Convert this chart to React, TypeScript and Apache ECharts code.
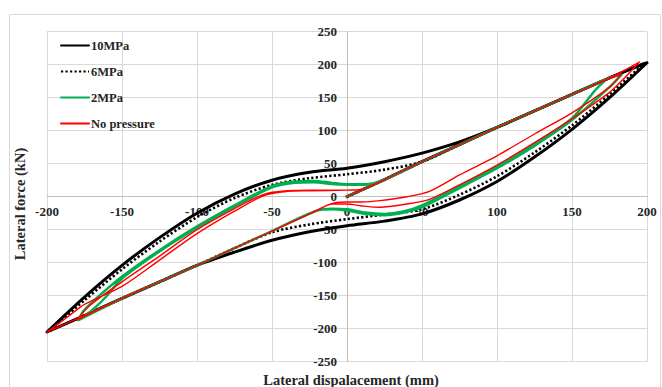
import { useEffect, useRef } from "react";
import * as echarts from "echarts";

type Pt = [number, number];

// Axis ranges (mm / kN)
const X_MIN = -200;
const X_MAX = 200;
const X_STEP = 50;
const Y_MIN = -250;
const Y_MAX = 250;
const Y_STEP = 50;

const seriesNames = ["10MPa", "6MPa", "2MPa", "No pressure"];

// ---- 10 MPa ----
const mpa10Virgin: Pt[] = [[0, 0], [25, 26], [50, 53], [75, 79], [100, 105], [125, 130], [150, 155], [175, 180], [200, 203]];
const mpa10Unload: Pt[] = [[175, 150], [150, 102], [125, 60], [100, 23], [75, -5], [50, -26], [25, -37], [0, -44], [-25, -53], [-50, -66], [-75, -84], [-100, -104], [-125, -129], [-150, -154], [-175, -180], [-200, -205]];
const mpa10Reload: Pt[] = [[-175, -152], [-150, -104], [-125, -62], [-100, -25], [-75, 4], [-50, 25], [-25, 37], [0, 43], [25, 53], [50, 66], [75, 83], [100, 105], [125, 130], [150, 155], [175, 180], [200, 203]];

// ---- 6 MPa ----
const mpa6Virgin: Pt[] = [[0, 0], [25, 26], [50, 53], [75, 79], [100, 105], [125, 130], [150, 155], [175, 180], [198, 202]];
const mpa6Unload: Pt[] = [[175, 155], [150, 108], [125, 67], [100, 31], [75, 3], [50, -19], [25, -27], [0, -34], [-25, -42], [-50, -54], [-75, -78], [-100, -104], [-125, -129], [-150, -154], [-175, -180], [-198, -203]];
const mpa6Reload: Pt[] = [[-175, -157], [-150, -110], [-125, -68], [-100, -31], [-75, -2], [-50, 18], [-25, 28], [0, 34], [25, 41], [50, 53], [75, 79], [100, 105], [125, 130], [150, 155], [175, 180], [198, 202]];

// ---- 2 MPa (two cycles) ----
const mpa2Virgin: Pt[] = [[0, 0], [25, 26], [50, 53], [75, 79], [100, 105], [125, 130], [150, 155], [175, 180], [183, 185]];
const mpa2UnloadA: Pt[] = [[175, 166], [150, 116], [125, 77], [100, 43], [75, 13], [50, -16], [38, -24], [25, -28], [12, -26], [0, -21], [-10, -19], [-20, -21], [-50, -52], [-75, -78], [-100, -104], [-125, -129], [-150, -154], [-179, -187]];
const mpa2ReloadA: Pt[] = [[-176, -174], [-170, -160], [-150, -121], [-125, -81], [-100, -45], [-75, -13], [-50, 16], [-35, 23], [-22, 24], [-10, 21], [0, 19], [12, 19], [25, 26], [50, 53], [75, 79], [100, 105], [125, 130], [150, 155], [173, 178]];
const mpa2UnloadB: Pt[] = [[165, 160], [150, 119], [125, 80], [100, 46], [75, 16], [50, -13], [38, -22], [25, -26], [12, -24], [0, -19], [-10, -18], [-20, -21], [-50, -52], [-75, -78], [-100, -104], [-125, -129], [-150, -154], [-175, -181]];
const mpa2ReloadB: Pt[] = [[-168, -168], [-160, -150], [-150, -124], [-125, -83], [-100, -47], [-75, -15], [-50, 14], [-35, 21], [-22, 22], [-10, 19], [0, 18], [12, 18], [20, 21], [25, 26], [50, 53], [75, 79], [100, 105]];

// ---- No pressure (two cycles) ----
const npVirgin: Pt[] = [[0, 0], [25, 26], [50, 53], [75, 79], [100, 105], [125, 130], [150, 155], [175, 180], [195, 204]];
const npUnloadA: Pt[] = [[185, 180], [175, 158], [150, 118], [125, 82], [100, 48], [75, 18], [55, -4], [40, -11], [22, -16], [10, -14], [0, -11], [-10, -11], [-20, -21], [-50, -52], [-75, -78], [-100, -104], [-125, -129], [-150, -154], [-175, -180], [-200, -205]];
const npReloadA: Pt[] = [[-185, -180], [-175, -163], [-150, -136], [-125, -96], [-100, -56], [-75, -22], [-55, 2], [-40, 8], [-25, 9], [0, 10], [10, 11], [25, 26], [50, 53], [75, 79], [100, 105], [125, 130], [150, 155], [183, 186]];
const npUnloadB: Pt[] = [[175, 166], [150, 127], [125, 95], [100, 62], [75, 33], [55, 8], [40, 0], [22, -6], [10, -8], [0, -8], [-8, -9], [-25, -26], [-50, -52], [-75, -78], [-100, -104], [-125, -129], [-150, -154], [-180, -187]];
const npReloadB: Pt[] = [[-172, -166], [-150, -129], [-125, -90], [-100, -50], [-75, -18], [-55, 4], [-40, 9], [-25, 10], [0, 10], [10, 11], [25, 26], [50, 53], [75, 79], [100, 105]];

const SERIF = "'Liberation Serif', 'Times New Roman', Times, serif";
const TEXT = "#262626";
const GRID = "#d9d9d9";

// Plot box in pixels
const GRID_LEFT = 47;
const GRID_RIGHT = 15;
const GRID_TOP = 31.7;
const GRID_BOTTOM = 25.3;
const CHART_W = 662;
const CHART_H = 387;

export default function App() {
  const ref = useRef<HTMLDivElement>(null);

  useEffect(() => {
    if (!ref.current) return;
    const chart = echarts.init(ref.current, undefined, { renderer: "svg" });

    // axes cross at the origin: shift each axis from the plot edge to the zero line
    const plotW = CHART_W - GRID_LEFT - GRID_RIGHT;
    const plotH = CHART_H - GRID_TOP - GRID_BOTTOM;
    const yAxisOffset = -plotW * ((0 - X_MIN) / (X_MAX - X_MIN));
    const xAxisOffset = -plotH * ((0 - Y_MIN) / (Y_MAX - Y_MIN));

    const paths: Pt[][] = [
      [...mpa10Virgin, ...mpa10Unload, ...mpa10Reload],
      [...mpa6Virgin, ...mpa6Unload, ...mpa6Reload],
      [...mpa2Virgin, ...mpa2UnloadA, ...mpa2ReloadA, ...mpa2UnloadB, ...mpa2ReloadB],
      [...npVirgin, ...npUnloadA, ...npReloadA, ...npUnloadB, ...npReloadB],
    ];
    const styles = [
      { color: "#000000", width: 3, type: "solid" as any, cap: "round" },
      { color: "#000000", width: 2.6, type: [2.2, 2.3] as any, cap: "butt" },
      { color: "#00b050", width: 2.4, type: "solid" as any, cap: "round" },
      { color: "#ff0000", width: 1.4, type: "solid" as any, cap: "round" },
    ];

    chart.setOption({
      animation: false,
      backgroundColor: "#ffffff",
      grid: { left: GRID_LEFT, right: GRID_RIGHT, top: GRID_TOP, bottom: GRID_BOTTOM },
      legend: {
        orient: "vertical",
        left: 55,
        top: 34,
        itemWidth: 28,
        itemHeight: 14,
        itemGap: 13,
        data: seriesNames,
        itemStyle: { opacity: 0 },
        textStyle: { fontFamily: SERIF, fontWeight: "bold", fontSize: 12.5, color: TEXT, padding: [0, 0, 0, -3] },
      },
      xAxis: {
        type: "value",
        min: X_MIN,
        max: X_MAX,
        interval: X_STEP,
        position: "bottom",
        offset: xAxisOffset,
        axisLine: { onZero: false, lineStyle: { color: "#bfbfbf", width: 1 } },
        axisTick: { show: false },
        splitLine: { show: true, lineStyle: { color: GRID, width: 1 } },
        axisLabel: { fontFamily: SERIF, fontWeight: "bold", fontSize: 13, color: TEXT, margin: 8 },
      },
      yAxis: {
        type: "value",
        min: Y_MIN,
        max: Y_MAX,
        interval: Y_STEP,
        position: "left",
        offset: yAxisOffset,
        axisLine: { show: true, onZero: false, lineStyle: { color: "#bfbfbf", width: 1 } },
        axisTick: { show: false },
        splitLine: { show: true, lineStyle: { color: GRID, width: 1 } },
        axisLabel: { fontFamily: SERIF, fontWeight: "bold", fontSize: 13, color: TEXT, margin: 10 },
      },
      graphic: [
        {
          type: "rect",
          silent: true,
          shape: { x: 9.5, y: 14.5, width: 651, height: 380 },
          style: { fill: "none", stroke: GRID, lineWidth: 1 },
          z: -10,
        },
        {
          type: "text",
          x: 20,
          y: 204,
          rotation: Math.PI / 2,
          style: {
            text: "Lateral force (kN)",
            fill: TEXT,
            font: `bold 14.5px ${SERIF}`,
            textAlign: "center",
            textVerticalAlign: "middle",
          },
        },
        {
          type: "text",
          x: 351,
          y: 380,
          style: {
            text: "Lateral dispalacement (mm)",
            fill: TEXT,
            font: `bold 14.5px ${SERIF}`,
            textAlign: "center",
            textVerticalAlign: "middle",
          },
        },
      ],
      series: paths.map((data, i) => ({
        name: seriesNames[i],
        type: "line",
        data,
        symbol: "none",
        showSymbol: false,
        smooth: 0.3,
        color: styles[i].color,
        lineStyle: { color: styles[i].color, width: styles[i].width, type: styles[i].type, cap: styles[i].cap, join: "round" },
        z: 2 + i,
      })),
    });

    return () => chart.dispose();
  }, []);

  return (
    <div
      ref={ref}
      style={{ position: "absolute", left: 0, top: 0, width: CHART_W, height: CHART_H, background: "#fff" }}
    />
  );
}
